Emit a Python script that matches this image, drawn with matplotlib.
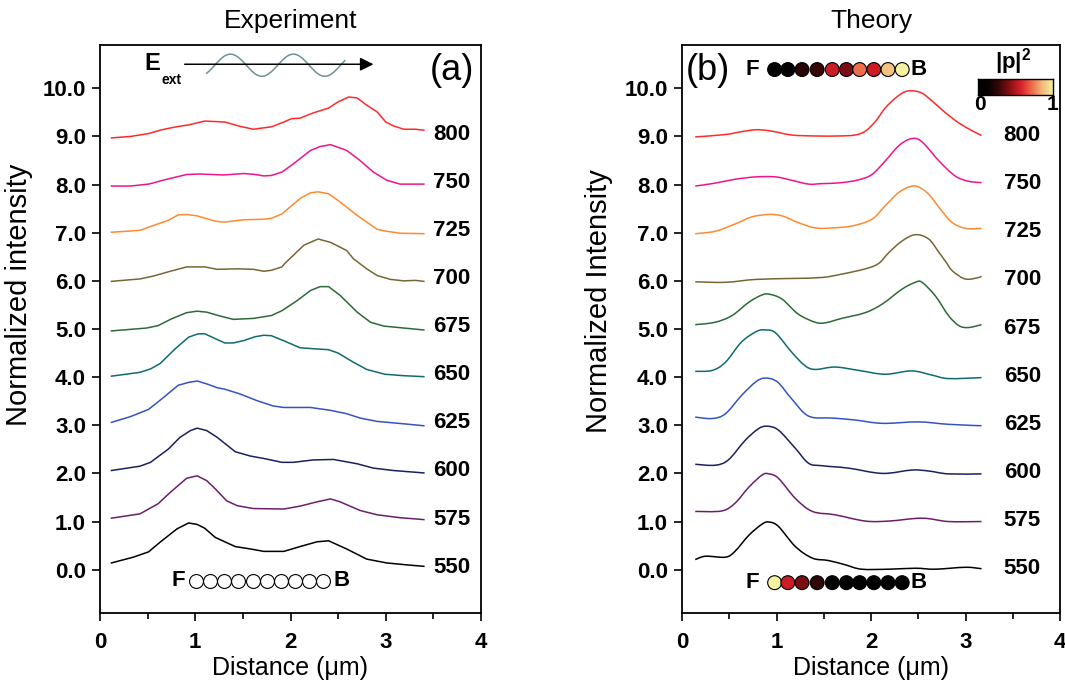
import numpy as np
import matplotlib
matplotlib.use('Agg')
import matplotlib.pyplot as plt
from matplotlib.colors import LinearSegmentedColormap
from matplotlib.path import Path
from matplotlib.patches import PathPatch

plt.rcParams['font.family'] = ['Liberation Sans', 'DejaVu Sans']
plt.rcParams['mathtext.fontset'] = 'custom'
plt.rcParams['mathtext.rm'] = 'Liberation Sans'
plt.rcParams['mathtext.bf'] = 'Liberation Sans:bold'
plt.rcParams['mathtext.it'] = 'Liberation Sans:italic'

# ---------------- data ----------------
wavelengths = [550, 575, 600, 625, 650, 675, 700, 725, 750, 800]
line_colors = ['#000000', '#6b1f6b', '#1b2060', '#3553c2', '#0f6b6e',
               '#2e6a38', '#776634', '#ff8a30', '#f0148c', '#ff2a2a']

# Experiment (x in um, y = offset normalized intensity)
exp_550_x = [0.12, 0.35, 0.51, 0.63, 0.81, 0.93, 1.02, 1.10, 1.21, 1.42, 1.58, 1.72, 1.93, 2.10, 2.28, 2.40, 2.59, 2.80, 3.01, 3.22, 3.40]
exp_550_y = [0.14, 0.26, 0.37, 0.57, 0.85, 0.97, 0.94, 0.86, 0.67, 0.48, 0.43, 0.38, 0.38, 0.48, 0.58, 0.60, 0.43, 0.22, 0.14, 0.10, 0.07]
exp_575_x = [0.12, 0.42, 0.61, 0.74, 0.91, 1.02, 1.12, 1.21, 1.33, 1.44, 1.61, 1.93, 2.10, 2.28, 2.42, 2.52, 2.73, 2.91, 3.15, 3.40]
exp_575_y = [1.07, 1.16, 1.37, 1.61, 1.90, 1.95, 1.85, 1.68, 1.43, 1.33, 1.27, 1.26, 1.32, 1.41, 1.47, 1.41, 1.23, 1.14, 1.08, 1.04]
exp_600_x = [0.12, 0.42, 0.53, 0.72, 0.84, 0.95, 1.02, 1.12, 1.23, 1.42, 1.58, 1.72, 1.91, 2.03, 2.24, 2.45, 2.70, 2.87, 3.08, 3.40]
exp_600_y = [2.06, 2.15, 2.23, 2.51, 2.75, 2.89, 2.94, 2.89, 2.75, 2.45, 2.36, 2.31, 2.23, 2.23, 2.28, 2.29, 2.20, 2.11, 2.06, 2.01]
exp_625_x = [0.12, 0.32, 0.51, 0.65, 0.82, 0.93, 1.02, 1.12, 1.23, 1.31, 1.47, 1.65, 1.82, 1.93, 2.21, 2.42, 2.59, 2.73, 2.91, 3.08, 3.19, 3.40]
exp_625_y = [3.06, 3.18, 3.33, 3.55, 3.83, 3.89, 3.92, 3.86, 3.78, 3.75, 3.65, 3.51, 3.40, 3.37, 3.37, 3.31, 3.24, 3.15, 3.08, 3.05, 3.03, 2.99]
exp_650_x = [0.12, 0.42, 0.53, 0.63, 0.79, 0.93, 1.03, 1.10, 1.21, 1.31, 1.40, 1.51, 1.63, 1.72, 1.80, 1.96, 2.10, 2.24, 2.40, 2.50, 2.66, 2.80, 2.99, 3.19, 3.40]
exp_650_y = [4.02, 4.10, 4.17, 4.28, 4.59, 4.83, 4.90, 4.90, 4.80, 4.71, 4.71, 4.76, 4.84, 4.87, 4.86, 4.73, 4.61, 4.59, 4.57, 4.50, 4.31, 4.16, 4.06, 4.03, 4.01]
exp_675_x = [0.12, 0.49, 0.61, 0.75, 0.91, 1.02, 1.12, 1.26, 1.40, 1.61, 1.80, 1.91, 2.07, 2.21, 2.31, 2.40, 2.52, 2.70, 2.84, 2.98, 3.19, 3.40]
exp_675_y = [4.96, 5.02, 5.07, 5.21, 5.34, 5.37, 5.35, 5.27, 5.20, 5.22, 5.28, 5.38, 5.59, 5.80, 5.88, 5.88, 5.70, 5.35, 5.14, 5.06, 5.02, 4.98]
exp_700_x = [0.12, 0.42, 0.56, 0.74, 0.91, 1.10, 1.23, 1.44, 1.61, 1.72, 1.80, 1.91, 1.94, 2.14, 2.29, 2.42, 2.59, 2.66, 2.80, 2.91, 3.05, 3.19, 3.31, 3.40]
exp_700_y = [5.99, 6.04, 6.10, 6.20, 6.29, 6.29, 6.24, 6.25, 6.24, 6.20, 6.22, 6.29, 6.36, 6.74, 6.87, 6.80, 6.63, 6.46, 6.25, 6.11, 6.03, 6.00, 6.01, 5.99]
exp_725_x = [0.12, 0.42, 0.56, 0.72, 0.82, 0.91, 1.02, 1.21, 1.30, 1.51, 1.72, 1.80, 1.91, 2.10, 2.21, 2.29, 2.40, 2.52, 2.70, 2.91, 3.01, 3.15, 3.40]
exp_725_y = [7.01, 7.05, 7.15, 7.26, 7.37, 7.38, 7.35, 7.24, 7.22, 7.27, 7.28, 7.30, 7.39, 7.71, 7.83, 7.85, 7.81, 7.64, 7.36, 7.07, 7.03, 6.99, 6.98]
exp_750_x = [0.12, 0.32, 0.51, 0.70, 0.91, 1.05, 1.30, 1.51, 1.63, 1.72, 1.80, 1.91, 2.03, 2.21, 2.31, 2.42, 2.59, 2.73, 2.87, 3.01, 3.15, 3.40]
exp_750_y = [7.97, 7.97, 8.01, 8.11, 8.21, 8.22, 8.20, 8.23, 8.21, 8.18, 8.19, 8.26, 8.43, 8.71, 8.79, 8.83, 8.71, 8.50, 8.26, 8.09, 8.01, 8.01]
exp_800_x = [0.12, 0.32, 0.51, 0.65, 0.80, 0.93, 1.10, 1.31, 1.47, 1.61, 1.80, 1.93, 2.01, 2.10, 2.24, 2.40, 2.50, 2.61, 2.70, 2.80, 2.91, 3.00, 3.08, 3.19, 3.31, 3.40]
exp_800_y = [8.97, 9.00, 9.06, 9.14, 9.20, 9.24, 9.32, 9.30, 9.21, 9.15, 9.20, 9.30, 9.37, 9.38, 9.49, 9.59, 9.72, 9.82, 9.80, 9.65, 9.51, 9.30, 9.22, 9.15, 9.15, 9.13]

# Theory
th_550_x = [0.14, 0.25, 0.46, 0.56, 0.71, 0.85, 0.92, 1.02, 1.20, 1.38, 1.55, 1.73, 1.90, 2.19, 2.47, 2.68, 3.00, 3.17]
th_550_y = [0.21, 0.28, 0.26, 0.38, 0.72, 0.95, 0.99, 0.90, 0.48, 0.24, 0.19, 0.10, 0.01, 0.01, 0.03, 0.01, 0.05, 0.02]
th_575_x = [0.14, 0.42, 0.56, 0.71, 0.85, 0.92, 1.02, 1.20, 1.38, 1.62, 1.94, 2.19, 2.54, 2.82, 3.17]
th_575_y = [1.21, 1.22, 1.38, 1.72, 1.97, 1.99, 1.90, 1.48, 1.21, 1.14, 1.01, 1.01, 1.07, 1.00, 1.00]
th_600_x = [0.14, 0.35, 0.49, 0.67, 0.81, 0.90, 1.02, 1.20, 1.34, 1.48, 1.76, 2.12, 2.43, 2.61, 2.82, 3.17]
th_600_y = [2.19, 2.17, 2.28, 2.69, 2.93, 2.98, 2.90, 2.52, 2.21, 2.16, 2.11, 2.00, 2.07, 2.05, 1.99, 1.99]
th_625_x = [0.14, 0.32, 0.46, 0.63, 0.78, 0.88, 1.01, 1.16, 1.34, 1.59, 1.83, 2.12, 2.50, 2.82, 3.17]
th_625_y = [3.17, 3.14, 3.24, 3.62, 3.90, 3.98, 3.90, 3.55, 3.19, 3.15, 3.11, 3.04, 3.07, 3.02, 2.99]
th_650_x = [0.14, 0.32, 0.46, 0.63, 0.79, 0.88, 0.99, 1.16, 1.30, 1.41, 1.62, 1.87, 2.15, 2.43, 2.65, 2.82, 3.17]
th_650_y = [4.12, 4.14, 4.31, 4.73, 4.95, 4.98, 4.92, 4.52, 4.24, 4.16, 4.21, 4.14, 4.06, 4.13, 4.04, 3.97, 3.99]
th_675_x = [0.14, 0.35, 0.53, 0.71, 0.85, 0.93, 1.06, 1.23, 1.41, 1.52, 1.69, 1.94, 2.12, 2.33, 2.47, 2.54, 2.68, 2.82, 2.93, 3.03, 3.17]
th_675_y = [5.09, 5.14, 5.28, 5.56, 5.71, 5.72, 5.62, 5.31, 5.14, 5.13, 5.22, 5.34, 5.52, 5.83, 5.97, 5.97, 5.69, 5.28, 5.07, 5.03, 5.09]
th_700_x = [0.14, 0.46, 0.78, 1.16, 1.48, 1.69, 1.94, 2.08, 2.19, 2.33, 2.47, 2.61, 2.72, 2.79, 2.86, 2.98, 3.07, 3.17]
th_700_y = [5.98, 5.97, 6.03, 6.05, 6.07, 6.14, 6.25, 6.36, 6.59, 6.83, 6.96, 6.87, 6.59, 6.40, 6.21, 6.05, 6.04, 6.09]
th_725_x = [0.14, 0.35, 0.56, 0.74, 0.92, 1.06, 1.23, 1.41, 1.59, 1.80, 2.01, 2.15, 2.29, 2.40, 2.49, 2.61, 2.75, 2.86, 3.00, 3.17]
th_725_y = [6.98, 7.03, 7.18, 7.33, 7.38, 7.35, 7.21, 7.10, 7.10, 7.14, 7.28, 7.56, 7.83, 7.95, 7.96, 7.80, 7.45, 7.21, 7.09, 7.09]
th_750_x = [0.14, 0.35, 0.56, 0.78, 0.99, 1.16, 1.34, 1.48, 1.69, 1.87, 2.01, 2.15, 2.29, 2.40, 2.49, 2.57, 2.72, 2.89, 3.03, 3.17]
th_750_y = [7.97, 8.03, 8.11, 8.16, 8.16, 8.09, 8.01, 8.02, 8.04, 8.10, 8.21, 8.49, 8.80, 8.94, 8.95, 8.83, 8.49, 8.18, 8.07, 8.04]
th_800_x = [0.14, 0.46, 0.63, 0.79, 0.95, 1.16, 1.41, 1.66, 1.83, 1.94, 2.05, 2.15, 2.26, 2.35, 2.43, 2.54, 2.65, 2.79, 2.93, 3.07, 3.17]
th_800_y = [8.99, 9.04, 9.10, 9.14, 9.11, 9.03, 9.01, 9.01, 9.03, 9.11, 9.32, 9.59, 9.80, 9.92, 9.95, 9.90, 9.73, 9.49, 9.28, 9.12, 9.02]

# Particle chain (positions in um) and |p|^2 values
chain_x_exp = [1.01, 1.16, 1.30, 1.45, 1.61, 1.75, 1.90, 2.05, 2.19, 2.34]
chain_x_th = [0.98, 1.12, 1.27, 1.43, 1.59, 1.74, 1.88, 2.03, 2.18, 2.33]
p2_800 = [0.0, 0.03, 0.22, 0.27, 0.55, 0.40, 0.72, 0.55, 0.88, 1.0]
p2_550 = [1.0, 0.55, 0.40, 0.25, 0.05, 0.0, 0.0, 0.0, 0.0, 0.0]

exp_x = [exp_550_x, exp_575_x, exp_600_x, exp_625_x, exp_650_x, exp_675_x, exp_700_x, exp_725_x, exp_750_x, exp_800_x]
exp_y = [exp_550_y, exp_575_y, exp_600_y, exp_625_y, exp_650_y, exp_675_y, exp_700_y, exp_725_y, exp_750_y, exp_800_y]
th_x = [th_550_x, th_575_x, th_600_x, th_625_x, th_650_x, th_675_x, th_700_x, th_725_x, th_750_x, th_800_x]
th_y = [th_550_y, th_575_y, th_600_y, th_625_y, th_650_y, th_675_y, th_700_y, th_725_y, th_750_y, th_800_y]

cmap = LinearSegmentedColormap.from_list(
    'p2', ['#000000', '#0a0202', '#3c0808', '#8a1014', '#d8202a', '#ec6a48', '#f3b878', '#f5f3a2'])


def spline_path(xs, ys):
    """Smooth (Catmull-Rom style) Bezier path through the given points."""
    p = np.column_stack([xs, ys]).astype(float)
    n = len(p)
    verts = [p[0]]
    codes = [Path.MOVETO]
    for i in range(n - 1):
        p0 = p[i - 1] if i > 0 else p[i]
        p1, p2 = p[i], p[i + 1]
        p3 = p[i + 2] if i + 2 < n else p[i + 1]
        c1 = p1 + (p2 - p0) / 6.0
        c2 = p2 - (p3 - p1) / 6.0
        verts += [c1, c2, p2]
        codes += [Path.CURVE4] * 3
    return Path(verts, codes)


# ---------------- figure ----------------
fig = plt.figure(figsize=(10.65, 6.86), dpi=100)
W, H = 1065, 686
axL = fig.add_axes([100 / W, 1 - 613 / H, 381 / W, 568 / H])
axR = fig.add_axes([682 / W, 1 - 613 / H, 378 / W, 568 / H])

tick_fs = 16
for ax in (axL, axR):
    ax.set_xlim(0, 4)
    ax.set_ylim(-0.9, 10.9)
    ax.set_xticks([0, 1, 2, 3, 4])
    ax.set_xticks([0.5, 1.5, 2.5, 3.5], minor=True)
    ax.set_yticks(range(0, 11))
    ax.set_yticklabels([f'{v:.1f}' for v in range(0, 11)])
    ax.tick_params(axis='both', which='major', direction='out', length=6, width=1.2,
                   labelsize=tick_fs, pad=4)
    ax.tick_params(axis='x', which='major', pad=8)
    ax.tick_params(axis='x', which='minor', direction='out', length=4, width=1.2)
    for lab in ax.get_xticklabels() + ax.get_yticklabels():
        lab.set_fontweight('bold')
    for sp in ax.spines.values():
        sp.set_linewidth(1.3)
    ax.set_xlabel('Distance (μm)', fontsize=18, labelpad=2)

axL.set_ylabel('Normalized intensity', fontsize=21)
axR.set_ylabel('Normalized Intensity', fontsize=21)
axL.yaxis.set_label_coords(-0.176, 0.56)
axR.yaxis.set_label_coords(-0.183, 0.55)
axL.set_title('Experiment', fontsize=19, pad=12)
axR.set_title('Theory', fontsize=19, pad=12)

for i, wl in enumerate(wavelengths):
    axL.plot(exp_x[i], exp_y[i], color=line_colors[i], lw=1.1)
    axR.add_patch(PathPatch(spline_path(th_x[i], th_y[i]), facecolor='none',
                            edgecolor=line_colors[i], lw=1.1))
    axL.text(3.69, i + 0.05, str(wl), fontsize=16, fontweight='bold', ha='center', va='center')
    axR.text(3.60, i + 0.02, str(wl), fontsize=16, fontweight='bold', ha='center', va='center')

# particle chains
axL.scatter(chain_x_exp, [-0.23] * 10, s=100, facecolors='white', edgecolors='black',
            linewidths=0.8, zorder=3, clip_on=False)
axL.text(0.82, -0.23, 'F', fontsize=16, fontweight='bold', ha='center', va='center')
axL.text(2.54, -0.23, 'B', fontsize=16, fontweight='bold', ha='center', va='center')

axR.scatter(chain_x_th, [10.39] * 10, s=100, c=p2_800, cmap=cmap, vmin=0, vmax=1,
            edgecolors='black', linewidths=0.8, zorder=3, clip_on=False)
axR.text(0.74, 10.39, 'F', fontsize=16, fontweight='bold', ha='center', va='center')
axR.text(2.50, 10.39, 'B', fontsize=16, fontweight='bold', ha='center', va='center')
axR.scatter(chain_x_th, [-0.27] * 10, s=100, c=p2_550, cmap=cmap, vmin=0, vmax=1,
            edgecolors='black', linewidths=0.8, zorder=3, clip_on=False)
axR.text(0.74, -0.27, 'F', fontsize=16, fontweight='bold', ha='center', va='center')
axR.text(2.50, -0.27, 'B', fontsize=16, fontweight='bold', ha='center', va='center')

# panel letters
axL.text(3.70, 10.36, '(a)', fontsize=26, ha='center', va='center')
axR.text(0.27, 10.36, '(b)', fontsize=26, ha='center', va='center')

# E_ext arrow and wave
axL.annotate('', xy=(2.90, 10.5), xytext=(0.86, 10.5),
             arrowprops=dict(arrowstyle='-|>', color='black', lw=1.1, mutation_scale=20))
axL.text(0.47, 10.52, 'E', fontsize=17, fontweight='bold', ha='left', va='center')
axL.text(0.65, 10.18, 'ext', fontsize=10, fontweight='bold', ha='left', va='center')
wx = np.linspace(1.12, 2.57, 200)
wy = 10.48 + 0.23 * np.cos(2 * np.pi * (wx - 1.37) / 0.66)
axL.plot(wx, wy, color='#6f8f96', lw=1.1)

# colour bar
cax = fig.add_axes([978 / W, 1 - 95 / H, 75 / W, 16 / H])
grad = np.linspace(0, 1, 256).reshape(1, -1)
cax.imshow(grad, aspect='auto', cmap=cmap, extent=[0, 1, 0, 1])
cax.set_xticks([])
cax.set_yticks([])
for sp in cax.spines.values():
    sp.set_linewidth(1.0)
fig.text(980 / W, 1 - 104 / H, '0', fontsize=15, fontweight='bold', ha='center', va='center')
fig.text(1052 / W, 1 - 104 / H, '1', fontsize=15, fontweight='bold', ha='center', va='center')
fig.text(1013 / W, 1 - 62 / H, r'$\mathbf{|p|^2}$', fontsize=16, ha='center', va='center')

fig.savefig('out.png', dpi=100)
